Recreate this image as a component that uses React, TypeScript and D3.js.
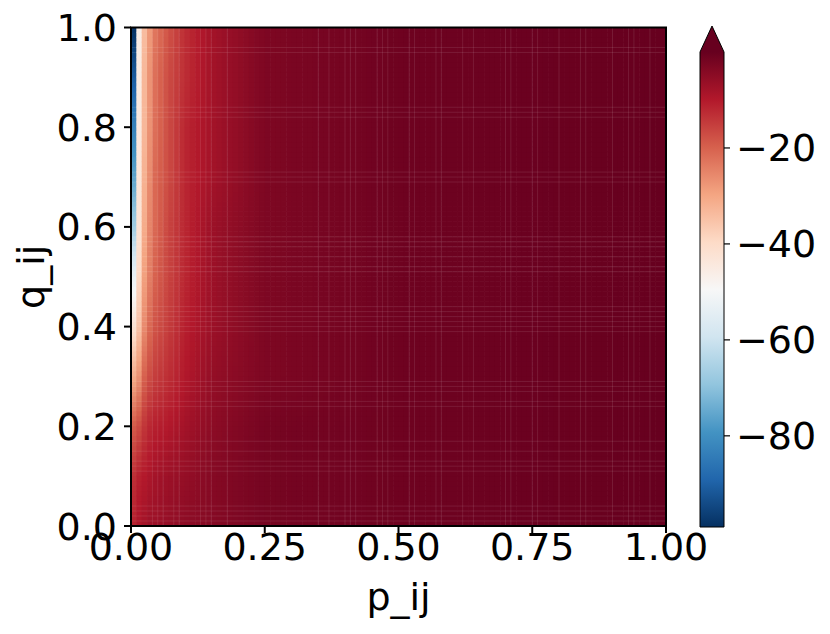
import React from 'react';
import * as d3 from 'd3';

const W = 830;
const H = 634;

// Axis ticks
const xTicks = [0, 0.25, 0.5, 0.75, 1.0];
const xTickLabels = ['0.00', '0.25', '0.50', '0.75', '1.00'];
const yTicks = [0, 0.2, 0.4, 0.6, 0.8, 1.0];
const yTickLabels = ['0.0', '0.2', '0.4', '0.6', '0.8', '1.0'];
const cbTicks = [-20, -40, -60, -80];
const cbTickLabels = ['\u221220', '\u221240', '\u221260', '\u221280'];
const cbDomain = [-99, 0];

// Grid resolution (cells per axis)
const nCols = 100;
const nRows = 100;

// Values on a coarse grid of knots
const pKnots = [0.005, 0.015, 0.025, 0.035, 0.045, 0.07, 0.1, 0.15, 0.25, 0.5, 1.0];
const qKnots = [0, 0.1, 0.2, 0.3, 0.4, 0.5, 0.6, 0.7, 0.8, 0.9, 1.0];
const valQ00 = [-11, -9, -8, -7, -7, -6, -5, -4, -2, -1, 0];
const valQ01 = [-13, -11, -10, -9, -8, -7, -6, -4, -2, -1, 0];
const valQ02 = [-19, -17, -14, -12, -11, -10, -8, -5, -2, -1, 0];
const valQ03 = [-31, -27, -20, -17, -15, -13, -10, -6, -3, -1, 0];
const valQ04 = [-42, -35, -26, -21, -18, -15, -11, -7, -3, -1, 0];
const valQ05 = [-53, -39, -29, -24, -20, -16, -12, -7, -3, -1, 0];
const valQ06 = [-67, -42, -31, -25, -21, -16, -12, -7, -3, -1, 0];
const valQ07 = [-76, -43, -32, -26, -21, -17, -12, -8, -3, -1, 0];
const valQ08 = [-83, -44, -33, -27, -22, -17, -12, -8, -3, -1, 0];
const valQ09 = [-91, -45, -33, -27, -22, -17, -13, -8, -3, -1, 0];
const valQ10 = [-99, -46, -34, -28, -23, -18, -13, -8, -3, -1, 0];
const valueRows = [valQ00, valQ01, valQ02, valQ03, valQ04, valQ05, valQ06, valQ07, valQ08, valQ09, valQ10];

// faint rendering seams seen in the mesh (cell boundary indices)
const seamCols = [4, 5, 6, 8, 9, 13, 14, 15, 18, 35, 37, 40, 41, 42, 46, 47, 48, 52, 53, 57, 58, 62, 64, 70, 71, 75, 76, 80, 84, 85, 90, 93, 94, 97];
const seamRows = [1, 2, 3, 4, 11, 12, 13, 15, 17, 24, 25, 27, 28, 29, 39, 40, 41, 42, 43, 44, 51, 52, 54, 56, 57, 58, 69, 70, 71, 82, 83, 84, 95, 96];

const FONT = 'DejaVu Sans';
const FS = 38;

export default function App() {
  const plot = { left: 131, right: 666, top: 27.5, bottom: 526 };
  const x = d3.scaleLinear().domain([0, 1]).range([plot.left, plot.right]);
  const y = d3.scaleLinear().domain([0, 1]).range([plot.bottom, plot.top]);

  const colors = [...d3.schemeRdBu[11]].reverse();
  const color = d3
    .scaleLinear<string>()
    .domain(d3.range(11).map((i) => cbDomain[0] + (i * (cbDomain[1] - cbDomain[0])) / 10))
    .range(colors)
    .interpolate(d3.interpolateRgb)
    .clamp(true);

  const rowScales = valueRows.map((r) => d3.scaleLinear().domain(pKnots).range(r).clamp(true));

  const cells: { x0: number; x1: number; y0: number; y1: number; c: string; k: string }[] = [];
  for (let i = 0; i < nCols; i++) {
    const pc = (i + 0.5) / nCols;
    const atKnots = rowScales.map((s) => s(pc));
    const qScale = d3.scaleLinear().domain(qKnots).range(atKnots).clamp(true);
    for (let j = 0; j < nRows; j++) {
      const qc = (j + 0.5) / nRows;
      const v = qScale(qc);
      cells.push({
        x0: x(i / nCols),
        x1: x((i + 1) / nCols),
        y0: y((j + 1) / nRows),
        y1: y(j / nRows),
        c: color(v),
        k: `${i}-${j}`,
      });
    }
  }

  const cb = { left: 700, right: 724, top: 52, bottom: 527, tip: 26 };
  const cy = d3.scaleLinear().domain(cbDomain).range([cb.bottom, cb.top]);
  const gradStops = d3.range(11).map((i) => ({ off: i / 10, c: colors[i] }));

  return (
    <svg
      width={W}
      height={H}
      style={{ position: 'absolute', left: 0, top: 0, background: '#fff' }}
      fontFamily={FONT}
    >
      <defs>
        <linearGradient id="cbgrad" x1="0" y1="1" x2="0" y2="0">
          {gradStops.map((s) => (
            <stop key={s.off} offset={s.off} stopColor={s.c} />
          ))}
        </linearGradient>
        <clipPath id="plotclip">
          <rect x={plot.left} y={plot.top} width={plot.right - plot.left} height={plot.bottom - plot.top} />
        </clipPath>
      </defs>
      <g clipPath="url(#plotclip)">
        {cells.map((d) => (
          <rect
            key={d.k}
            x={d.x0}
            y={d.y0 - 0.6}
            width={d.x1 - d.x0 + 0.6}
            height={d.y1 - d.y0 + 0.6}
            fill={d.c}
          />
        ))}
        {seamCols.map((c) => (
          <line
            key={`sc${c}`}
            x1={x(c / nCols)}
            x2={x(c / nCols)}
            y1={plot.top}
            y2={plot.bottom}
            stroke="#fff"
            strokeOpacity={0.1}
            strokeWidth={1}
          />
        ))}
        {seamRows.map((r) => (
          <line
            key={`sr${r}`}
            x1={plot.left}
            x2={plot.right}
            y1={y(r / nRows)}
            y2={y(r / nRows)}
            stroke="#fff"
            strokeOpacity={0.1}
            strokeWidth={1}
          />
        ))}
      </g>
      <rect
        x={plot.left}
        y={plot.top}
        width={plot.right - plot.left}
        height={plot.bottom - plot.top}
        fill="none"
        stroke="#000"
        strokeWidth={2}
      />
      {xTicks.map((t, i) => (
        <g key={`xt${i}`}>
          <line x1={x(t)} x2={x(t)} y1={plot.bottom} y2={plot.bottom + 7} stroke="#000" strokeWidth={2} />
          <text x={x(t)} y={plot.bottom + 34} textAnchor="middle" fontSize={FS} fill="#000">
            {xTickLabels[i]}
          </text>
        </g>
      ))}
      {yTicks.map((t, i) => (
        <g key={`yt${i}`}>
          <line x1={plot.left - 7} x2={plot.left} y1={y(t)} y2={y(t)} stroke="#000" strokeWidth={2} />
          <text x={plot.left - 14} y={y(t) + 13.5} textAnchor="end" fontSize={FS} fill="#000">
            {yTickLabels[i]}
          </text>
        </g>
      ))}
      <text x={(plot.left + plot.right) / 2} y={610} textAnchor="middle" fontSize={FS} fill="#000">
        p_ij
      </text>
      <text
        transform={`translate(44, ${(plot.top + plot.bottom) / 2}) rotate(-90)`}
        textAnchor="middle"
        fontSize={FS}
        fill="#000"
      >
        q_ij
      </text>
      <rect x={cb.left} y={cb.top} width={cb.right - cb.left} height={cb.bottom - cb.top} fill="url(#cbgrad)" />
      <path
        d={`M${cb.left},${cb.top} L${(cb.left + cb.right) / 2},${cb.tip} L${cb.right},${cb.top} Z`}
        fill={colors[10]}
      />
      <path
        d={`M${cb.left},${cb.top} L${(cb.left + cb.right) / 2},${cb.tip} L${cb.right},${cb.top} L${cb.right},${cb.bottom} L${cb.left},${cb.bottom} Z`}
        fill="none"
        stroke="#000"
        strokeWidth={1}
      />
      {cbTicks.map((t, i) => (
        <g key={`cbt${i}`}>
          <line x1={cb.right} x2={cb.right + 6} y1={cy(t)} y2={cy(t)} stroke="#000" strokeWidth={1.2} />
          <text x={cb.right + 12} y={cy(t) + 13.5} textAnchor="start" fontSize={FS} fill="#000">
            {cbTickLabels[i]}
          </text>
        </g>
      ))}
    </svg>
  );
}
